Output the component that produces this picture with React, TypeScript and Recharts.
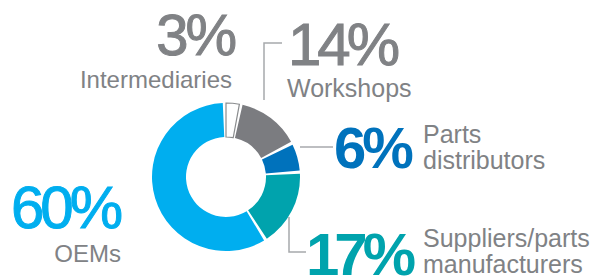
import { Cell, Pie, PieChart } from "recharts";

const segments = ["Intermediaries", "Workshops", "Parts distributors", "Suppliers/parts manufacturers", "OEMs"];
const shares = [3, 14, 6, 17, 60];
const colors = ["#ffffff", "#7b7c80", "#0072bc", "#00a3ad", "#00aeef"];

const data = segments.map((name, i) => ({ name, value: shares[i] }));

const FONT = "'Liberation Sans', Arial, sans-serif";
const GRAY = "#808285";
const LINE = "#a7a9ac";

export default function App() {
  return (
    <div style={{ position: "absolute", left: 0, top: 0, width: 606, height: 280, background: "#fff" }}>
      <PieChart width={606} height={280}>
        <Pie
          data={data}
          dataKey="value"
          cx={221}
          cy={172}
          innerRadius={40}
          outerRadius={74}
          startAngle={90}
          endAngle={-270}
          paddingAngle={2.5}
          isAnimationActive={false}
        >
          {data.map((d, i) => (
            <Cell
              key={d.name}
              fill={colors[i]}
              stroke={i === 0 ? "#8a8c8e" : "none"}
              strokeWidth={i === 0 ? 1.2 : 0}
            />
          ))}
        </Pie>
      </PieChart>
      <svg
        width={606}
        height={280}
        style={{ position: "absolute", left: 0, top: 0, pointerEvents: "none" }}
        fontFamily={FONT}
      >
        <polyline points="264,100 264,43 282,43" fill="none" stroke={LINE} strokeWidth={1.5} />
        <line x1={300} y1={147} x2={333} y2={147} stroke={LINE} strokeWidth={1.5} />
        <polyline points="289,217 289,252 306,252" fill="none" stroke={LINE} strokeWidth={1.5} />

        <text x={234} y={55} textAnchor="end" fontSize={58} letterSpacing={-3} fill={GRAY} stroke={GRAY} strokeWidth={1}>
          {shares[0]}%
        </text>
        <text x={232} y={88} textAnchor="end" fontSize={24} fill={GRAY}>
          {segments[0]}
        </text>

        <text x={288} y={65} fontSize={60} letterSpacing={-4} fill={GRAY} stroke={GRAY} strokeWidth={1}>
          {shares[1]}%
        </text>
        <text x={287} y={97} fontSize={25} fill={GRAY}>
          {segments[1]}
        </text>

        <text x={334} y={168} fontSize={58} fontWeight="bold" letterSpacing={-4} fill={colors[2]}>
          {shares[2]}%
        </text>
        <text x={423} y={143} fontSize={25} fill={GRAY}>
          Parts
        </text>
        <text x={423} y={169} fontSize={25} fill={GRAY}>
          distributors
        </text>

        <text x={306} y={275} fontSize={60} fontWeight="bold" letterSpacing={-5} fill={colors[3]}>
          {shares[3]}%
        </text>
        <text x={423} y={247} fontSize={25} fill={GRAY}>
          Suppliers/parts
        </text>
        <text x={423} y={273} fontSize={25} fill={GRAY}>
          manufacturers
        </text>

        <text x={11} y={228} fontSize={60} letterSpacing={-4} fill={colors[4]} stroke={colors[4]} strokeWidth={1}>
          {shares[4]}%
        </text>
        <text x={121} y={262} textAnchor="end" fontSize={24} fill={GRAY}>
          {segments[4]}
        </text>
      </svg>
    </div>
  );
}
